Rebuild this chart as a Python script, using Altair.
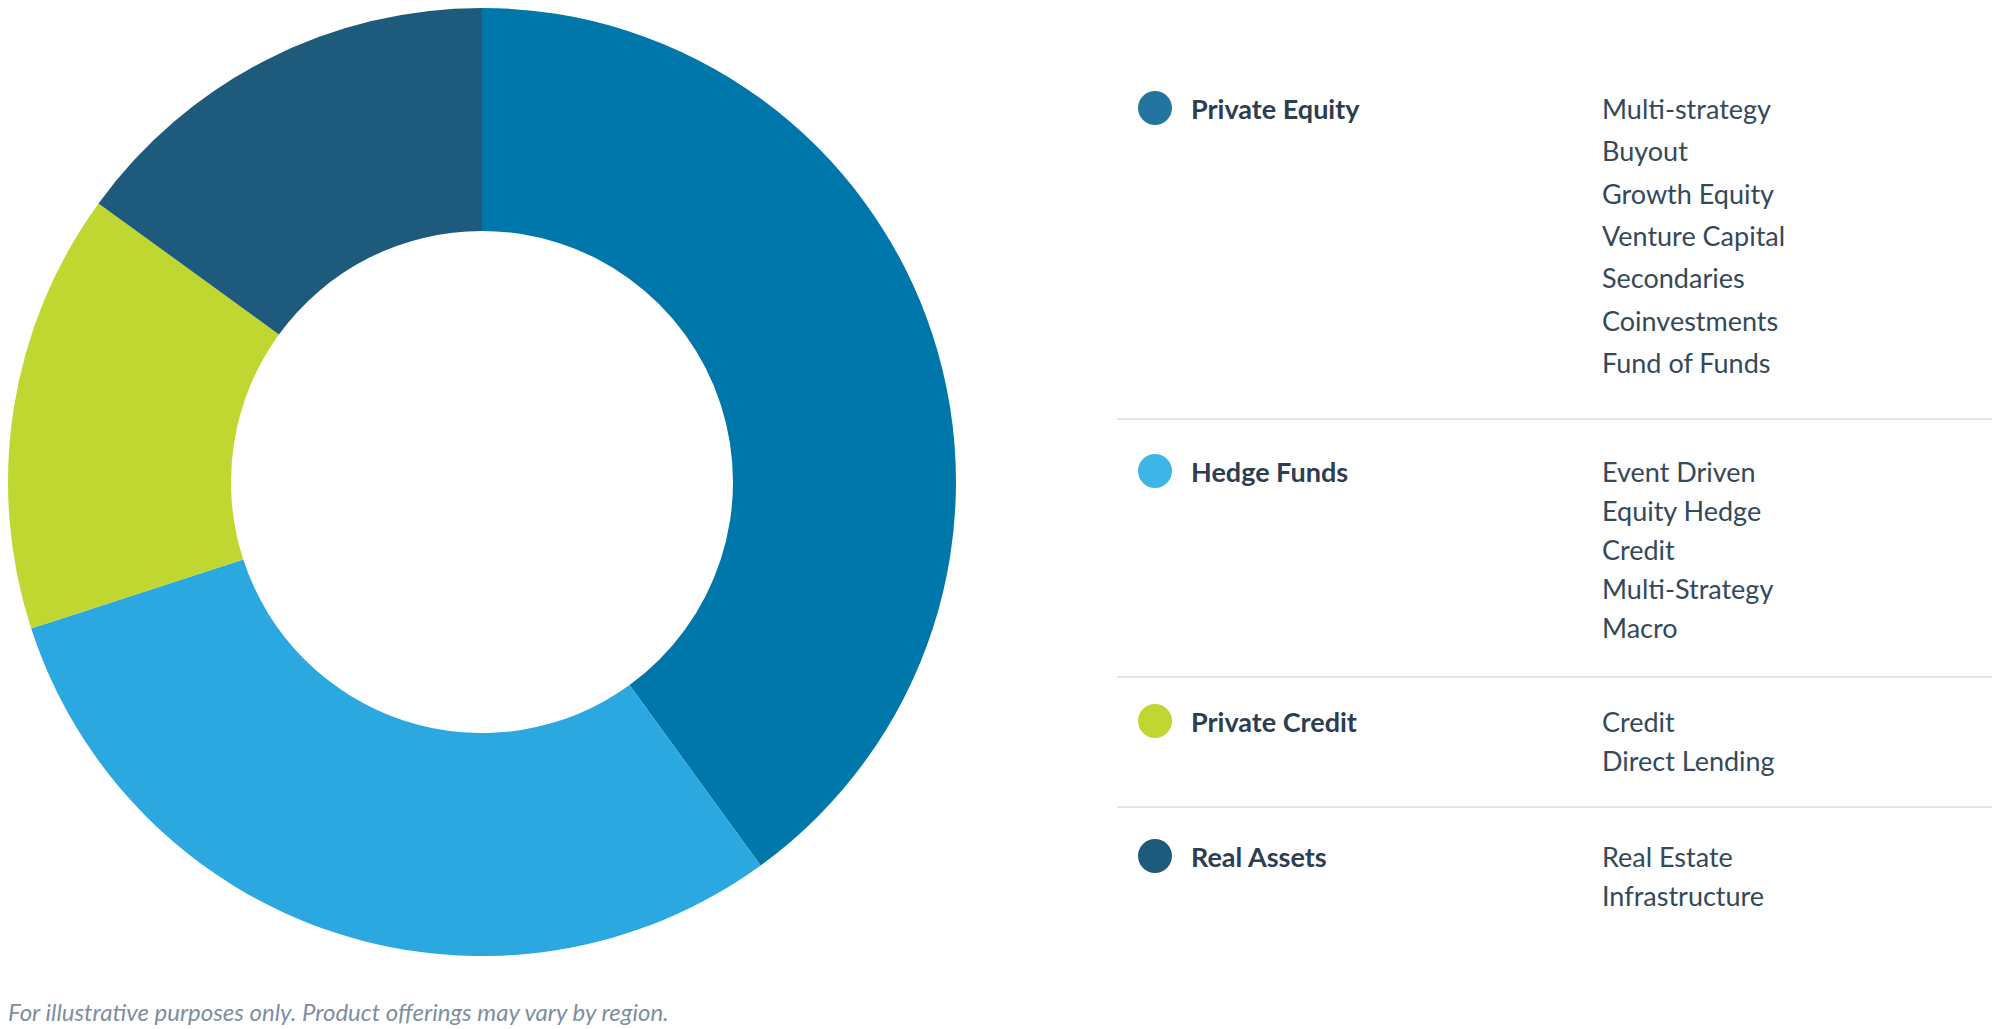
import altair as alt
import pandas as pd

# ---------------- data ----------------
categories = ["Private Equity", "Hedge Funds", "Private Credit", "Real Assets"]
shares = [40, 30, 15, 15]
slice_colors = ["#0077AA", "#2CA8E1", "#BFD730", "#1D5A7B"]
legend_colors = ["#2474A0", "#3DB5E6", "#BFD730", "#1D5A7B"]

pe_items = ["Multi-strategy", "Buyout", "Growth Equity", "Venture Capital",
            "Secondaries", "Coinvestments", "Fund of Funds"]
hf_items = ["Event Driven", "Equity Hedge", "Credit", "Multi-Strategy", "Macro"]
pc_items = ["Credit", "Direct Lending"]
ra_items = ["Real Estate", "Infrastructure"]
sub_items = [pe_items, hf_items, pc_items, ra_items]

footnote = "For illustrative purposes only. Product offerings may vary by region."

# ---------------- layout (page px -> plot px) ----------------
W, H = 1984, 1019
OFF = 8
CX, R_OUT, R_IN = 482 - OFF, 474, 251
first_baseline = [119, 482, 732, 867]
line_step = [42.3, 39, 39, 39]
sep_y = [419, 677, 807]
dot_x, head_x, item_x = 1155, 1191, 1602
sep_x0, sep_x1 = 1117, 2000
TEXT = "#2C3E50"
FONT = "Lato"
FS = 27

donut_df = pd.DataFrame({"category": categories, "share": shares,
                         "order": list(range(len(categories)))})

head_df = pd.DataFrame({
    "category": categories,
    "lcolor": legend_colors,
    "hx": [head_x - OFF] * 4,
    "dx": [dot_x - OFF] * 4,
    "by": [b - OFF for b in first_baseline],
    "dy": [b - OFF - 11 for b in first_baseline],
})

rows = []
for g, items in enumerate(sub_items):
    for i, it in enumerate(items):
        rows.append({"item": it, "x": item_x - OFF,
                     "y": first_baseline[g] - OFF + i * line_step[g]})
items_df = pd.DataFrame(rows)

sep_df = pd.DataFrame({"x": [sep_x0 - OFF] * 3, "x2": [sep_x1 - OFF] * 3,
                       "y": [s - OFF for s in sep_y]})
foot_df = pd.DataFrame({"t": [footnote], "x": [0], "y": [1013]})

xs = alt.Scale(domain=[0, W], nice=False, zero=False)
ys = alt.Scale(domain=[H, 0], nice=False, zero=False)

arc = alt.Chart(donut_df).mark_arc(radius=R_OUT, innerRadius=R_IN).encode(
    theta=alt.Theta("share:Q", stack=True),
    order=alt.Order("order:Q", sort="ascending"),
    color=alt.Color("category:N", scale=alt.Scale(domain=categories, range=slice_colors), legend=None),
    x=alt.value(CX),
    y=alt.value(CX),
)

seps = alt.Chart(sep_df).mark_rule(color="#D8DFE5", strokeWidth=1.5).encode(
    x=alt.X("x:Q", scale=xs, axis=None),
    x2="x2:Q",
    y=alt.Y("y:Q", scale=ys, axis=None),
)

dots = alt.Chart(head_df).mark_point(filled=True, shape="circle", size=1156, opacity=1).encode(
    x=alt.X("dx:Q", scale=xs, axis=None),
    y=alt.Y("dy:Q", scale=ys, axis=None),
    color=alt.Color("lcolor:N", scale=None),
)

heads = alt.Chart(head_df).mark_text(
    align="left", baseline="alphabetic", font=FONT, fontSize=FS, fontWeight="bold", color=TEXT
).encode(
    x=alt.X("hx:Q", scale=xs, axis=None),
    y=alt.Y("by:Q", scale=ys, axis=None),
    text="category:N",
)

items = alt.Chart(items_df).mark_text(
    align="left", baseline="alphabetic", font=FONT, fontSize=FS, color="#34495A"
).encode(
    x=alt.X("x:Q", scale=xs, axis=None),
    y=alt.Y("y:Q", scale=ys, axis=None),
    text="item:N",
)

foot = alt.Chart(foot_df).mark_text(
    align="left", baseline="alphabetic", font=FONT, fontSize=24, fontStyle="italic", color="#7D8FA0"
).encode(
    x=alt.X("x:Q", scale=xs, axis=None),
    y=alt.Y("y:Q", scale=ys, axis=None),
    text="t:N",
)

chart = alt.layer(arc, seps, dots, heads, items, foot).properties(
    width=W, height=H, padding=0, autosize=alt.AutoSizeParams(type="none")
).configure_view(stroke=None)

chart.save("out.html", embed_options={"renderer": "svg", "actions": False})
